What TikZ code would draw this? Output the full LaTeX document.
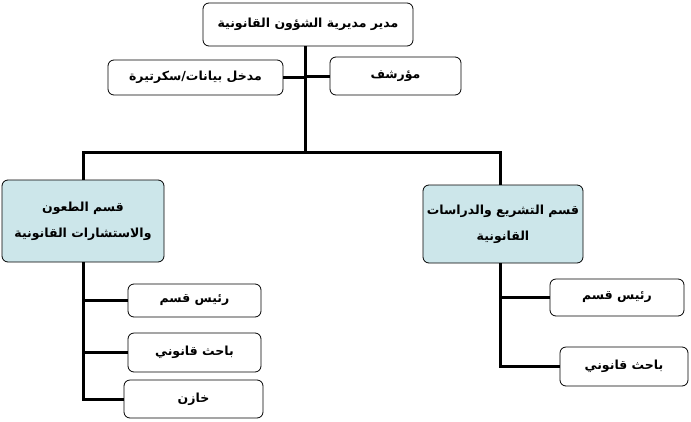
\documentclass[tikz,border=0pt]{standalone}
\usepackage{fontspec}
\newfontfamily\arabicfont[Script=Arabic]{DejaVu Sans}
\TeXXeTstate=1
\newcommand{\ar}[1]{{\arabicfont\bfseries\beginR #1\endR}}
\definecolor{pale}{HTML}{CCE6EA}
\begin{document}
\begin{tikzpicture}[x=1pt,y=-1pt,
  box/.style={draw,rounded corners=6pt,line width=0.8pt,fill=white,inner sep=0pt,font=\fontsize{12.5}{26}\selectfont,align=center},
  blue/.style={box,fill=pale},
  ln/.style={line width=3pt}]
\useasboundingbox (0,0) rectangle (691,421);
\node[box,minimum width=210pt,minimum height=43pt] (top) at (308,24.5) {\ar{مدير مديرية الشؤون القانونية}};
\node[box,minimum width=175pt,minimum height=35pt] (dat) at (195.5,77.5) {\ar{مدخل بيانات/سكرتيرة}};
\node[box,minimum width=131pt,minimum height=38pt] (arc) at (395.5,76) {\ar{مؤرشف}};
\node[blue,minimum width=162pt,minimum height=82pt] (L) at (83,221) {\ar{قسم الطعون}\\\ar{والاستشارات القانونية}};
\node[blue,minimum width=160pt,minimum height=78pt] (R) at (503,224) {\ar{قسم التشريع والدراسات}\\\ar{القانونية}};
\node[box,minimum width=133pt,minimum height=33pt] (L1) at (194.5,300.5) {\ar{رئيس قسم}};
\node[box,minimum width=133pt,minimum height=39pt] (L2) at (194.5,352.5) {\ar{باحث قانوني}};
\node[box,minimum width=139pt,minimum height=38pt] (L3) at (193.5,399) {\ar{خازن}};
\node[box,minimum width=134pt,minimum height=37pt] (R1) at (617,297.5) {\ar{رئيس قسم}};
\node[box,minimum width=128pt,minimum height=39pt] (R2) at (624,366.5) {\ar{باحث قانوني}};
\coordinate (j) at (305,152);
\draw[ln] (top.south -| j) -- (j);
\draw[ln] (dat.east) -- (dat.east -| j);
\draw[ln] (arc.west) -- (arc.west -| j);
\draw[ln] (L.north) |- (j) -| (R.north -| 500,0);
\draw[ln] (L.south) -- (83,399) -- (L3.west);
\draw[ln] (83,300.5) -- (L1.west);
\draw[ln] (83,352.5) -- (L2.west);
\draw[ln] (R.south -| 500,0) -- (500,366.5) -- (R2.west);
\draw[ln] (500,297.5) -- (R1.west);
\end{tikzpicture}
\end{document}
